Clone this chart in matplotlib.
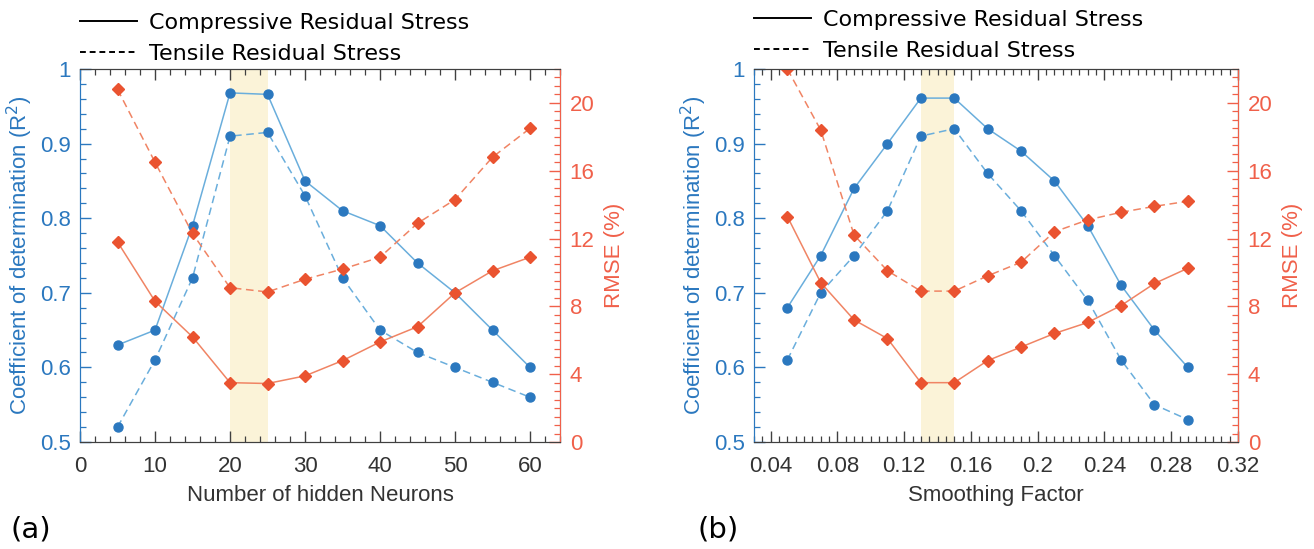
import matplotlib

matplotlib.use("Agg")
import matplotlib.pyplot as plt
from matplotlib.lines import Line2D
from matplotlib.ticker import MultipleLocator

# panel (a): number of hidden neurons
neurons = [5, 10, 15, 20, 25, 30, 35, 40, 45, 50, 55, 60]
r2_comp_a = [0.63, 0.65, 0.79, 0.968, 0.966, 0.85, 0.81, 0.79, 0.74, 0.70, 0.65, 0.60]
r2_tens_a = [0.52, 0.61, 0.72, 0.91, 0.915, 0.83, 0.72, 0.65, 0.62, 0.60, 0.58, 0.56]
rmse_comp_a = [11.8, 8.3, 6.2, 3.5, 3.45, 3.9, 4.8, 5.9, 6.8, 8.8, 10.1, 10.9]
rmse_tens_a = [20.8, 16.5, 12.3, 9.1, 8.85, 9.6, 10.2, 10.9, 12.9, 14.3, 16.8, 18.5]

# panel (b): smoothing factor
smoothing = [0.05, 0.07, 0.09, 0.11, 0.13, 0.15, 0.17, 0.19, 0.21, 0.23, 0.25, 0.27, 0.29]
r2_comp_b = [0.68, 0.75, 0.84, 0.90, 0.961, 0.961, 0.92, 0.89, 0.85, 0.79, 0.71, 0.65, 0.60]
r2_tens_b = [0.61, 0.70, 0.75, 0.81, 0.91, 0.92, 0.86, 0.81, 0.75, 0.69, 0.61, 0.55, 0.53]
rmse_comp_b = [13.3, 9.4, 7.2, 6.1, 3.5, 3.5, 4.8, 5.6, 6.4, 7.05, 8.05, 9.35, 10.25]
rmse_tens_b = [22.0, 18.4, 12.2, 10.1, 8.9, 8.9, 9.8, 10.6, 12.4, 13.1, 13.55, 13.9, 14.2]

legend_labels = ["Compressive Residual Stress", "Tensile Residual Stress"]

BLUE = "#2b78bf"
BLUE_LINE = "#6aaedc"
RED = "#ea5330"
RED_LINE = "#f08464"
RED_AXIS = "#f0604a"
GREY = "#404040"
SPAN = "#fbf3d8"

plt.rcParams["font.family"] = ["Liberation Sans", "DejaVu Sans"]

fig = plt.figure(figsize=(13.14, 5.49), dpi=100)


def style_ticks(ax, axis, color, pad=6.5):
    ax.tick_params(axis=axis, which="both", direction="in", colors=color,
                   labelsize=16, pad=pad)
    ax.tick_params(axis=axis, which="major", length=8, width=1.0)
    ax.tick_params(axis=axis, which="minor", length=4, width=0.9)


def draw_panel(rect, x, r2_c, r2_t, rm_c, rm_t, span, xlim, xmajor, xminor,
               xlabel, tag, tag_x, leg_y):
    ax = fig.add_axes(rect)
    ax.axvspan(*span, color=SPAN, lw=0, zorder=0)
    ax.plot(x, r2_c, "-o", color=BLUE_LINE, mfc=BLUE, mec=BLUE, ms=6.5, lw=1.1)
    ax.plot(x, r2_t, "--o", color=BLUE_LINE, mfc=BLUE, mec=BLUE, ms=6.5, lw=1.1,
            dashes=(5, 3))
    ax.set_ylim(0.5, 1.0)
    ax.xaxis.set_major_locator(MultipleLocator(xmajor))
    ax.xaxis.set_minor_locator(MultipleLocator(xminor))
    ax.yaxis.set_major_locator(MultipleLocator(0.1))
    ax.yaxis.set_minor_locator(MultipleLocator(0.02))
    ax.xaxis.set_major_formatter(lambda v, pos: f"{v:g}")
    ax.yaxis.set_major_formatter(lambda v, pos: f"{v:g}")
    ax.set_xlim(*xlim)
    ax.tick_params(axis="x", which="both", top=True)
    style_ticks(ax, "x", GREY, pad=10)
    ax.tick_params(axis="x", labelcolor="#333333")
    style_ticks(ax, "y", BLUE)
    ax.set_xlabel(xlabel, fontsize=16, color="#333333", labelpad=5.5)
    ax.set_ylabel("Coefficient of determination (R$^2$)", fontsize=16,
                  color=BLUE, labelpad=4)
    for side in ("top", "bottom"):
        ax.spines[side].set_color(GREY)
    ax.spines["left"].set_color(BLUE)

    ax2 = ax.twinx()
    ax2.plot(x, rm_c, "-D", color=RED_LINE, mfc=RED, mec=RED, ms=6.5, lw=1.1)
    ax2.plot(x, rm_t, "--D", color=RED_LINE, mfc=RED, mec=RED, ms=6.5, lw=1.1,
             dashes=(5, 3))
    ax2.set_ylim(0, 22)
    ax2.yaxis.set_major_locator(MultipleLocator(4))
    ax2.yaxis.set_minor_locator(MultipleLocator(0.5))
    style_ticks(ax2, "y", RED_AXIS, pad=7)
    ax2.set_ylabel("RMSE (%)", fontsize=16, color=RED_AXIS, labelpad=7)
    for side in ("top", "bottom"):
        ax2.spines[side].set_color(GREY)
    ax2.spines["left"].set_color(BLUE)
    ax2.spines["right"].set_color(RED_AXIS)

    handles = [
        Line2D([], [], color="black", lw=1.4, ls="-"),
        Line2D([], [], color="black", lw=1.4, ls=(0, (3, 2))),
    ]
    ax.legend(handles, legend_labels, loc="lower left",
              bbox_to_anchor=(0.0, leg_y), frameon=False,
              prop={"family": "DejaVu Sans", "size": 16}, handlelength=2.57,
              handletextpad=0.54, labelspacing=0.5, borderaxespad=0,
              borderpad=0)
    fig.text(tag_x, 0.035, tag, fontsize=21, family="DejaVu Sans", va="center")
    return ax, ax2


draw_panel([0.0609, 0.1949, 0.3653, 0.6794], neurons, r2_comp_a, r2_tens_a,
           rmse_comp_a, rmse_tens_a, (20, 25), (0, 64), 10, 2,
           "Number of hidden Neurons", "(a)", 0.008, 1.014)
draw_panel([0.5738, 0.1949, 0.3683, 0.6794], smoothing, r2_comp_b, r2_tens_b,
           rmse_comp_b, rmse_tens_b, (0.13, 0.15), (0.03, 0.32), 0.04, 0.005,
           "Smoothing Factor", "(b)", 0.531, 1.022)

fig.savefig("out.png", dpi=100)
